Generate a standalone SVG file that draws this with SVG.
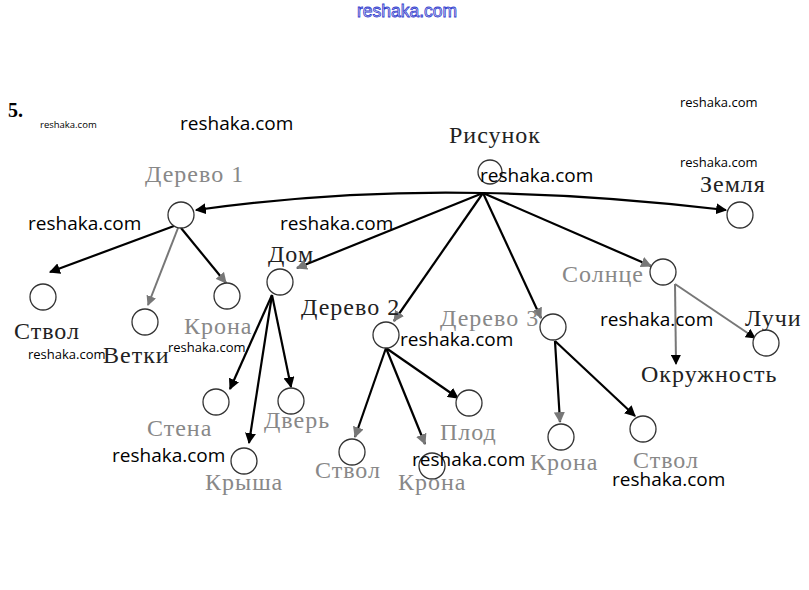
<svg xmlns="http://www.w3.org/2000/svg" width="809" height="590" viewBox="0 0 809 590">
<style>
.n{fill:#fff;stroke:#333;stroke-width:1.3}
.lb{font-family:"Liberation Serif",serif;font-size:24px;letter-spacing:1px;fill:#222}
.lg{font-family:"Liberation Serif",serif;font-size:24px;letter-spacing:1px;fill:#888}
.wm{font-family:"Open Sans",sans-serif;fill:#000}
.c{fill:none;stroke:#000;stroke-width:2.2}
.g{fill:none;stroke:#777;stroke-width:2}
</style>
<defs>
<marker id="ab" viewBox="0 0 10 10" refX="9" refY="5" markerWidth="5" markerHeight="5" orient="auto" markerUnits="strokeWidth"><path d="M0,0 L10,5 L0,10 z" fill="#000"/></marker>
<marker id="ag" viewBox="0 0 10 10" refX="9" refY="5" markerWidth="5" markerHeight="5" orient="auto" markerUnits="strokeWidth"><path d="M0,0 L10,5 L0,10 z" fill="#777"/></marker>
</defs>
<rect width="809" height="590" fill="#fff"/>
<text x="357" y="17" font-family="'Liberation Sans',sans-serif" font-size="17.5" fill="#dde" stroke="#3340d0" stroke-width="0.8">reshaka.com</text>
<text x="8" y="117" font-family="'Liberation Serif',serif" font-size="20" font-weight="bold" fill="#000">5.</text>
<g id="connectors">
<path class="c" d="M483,193 Q340,190 196,210" marker-end="url(#ab)"/>
<path class="c" d="M483,193 Q600,195 726,210" marker-end="url(#ab)"/>
<path class="c" d="M483,193 L297,268" marker-end="url(#ag)"/>
<path class="c" d="M483,193 L394,321" marker-end="url(#ag)"/>
<path class="c" d="M483,193 L541,318" marker-end="url(#ag)"/>
<path class="c" d="M483,193 L651,266" marker-end="url(#ag)"/>
<path class="c" d="M174,226 L50,272" marker-end="url(#ab)"/>
<path class="g" d="M178,228 L148,305" marker-end="url(#ag)"/>
<path class="c" d="M181,228 L226,283" marker-end="url(#ag)"/>
<path class="c" d="M272,295 L230,389" marker-end="url(#ab)"/>
<path class="c" d="M272,295 L249,443" marker-end="url(#ab)"/>
<path class="c" d="M272,295 L291,387" marker-end="url(#ab)"/>
<path class="c" d="M386,348 L355,437" marker-end="url(#ag)"/>
<path class="c" d="M386,348 L425,444" marker-end="url(#ag)"/>
<path class="c" d="M386,348 L458,398" marker-end="url(#ab)"/>
<path class="c" d="M555,341 L560,422" marker-end="url(#ag)"/>
<path class="c" d="M555,341 L635,416" marker-end="url(#ab)"/>
<path class="g" d="M675,284 L676,364" marker-end="url(#ab)"/>
<path class="g" d="M675,284 L755,338" marker-end="url(#ab)"/>
</g>
<g id="n-risunok"><circle class="n" cx="490" cy="172" r="12"/><text class="lb" x="449" y="143">Рисунок</text></g>
<g id="n-derevo1"><circle class="n" cx="181" cy="215" r="13"/><text class="lg" x="145" y="182">Дерево 1</text></g>
<g id="n-zemlya"><circle class="n" cx="740" cy="215" r="13"/><text class="lb" x="700" y="192">Земля</text></g>
<g id="n-dom"><circle class="n" cx="280" cy="282" r="13"/><text class="lb" x="268" y="262">Дом</text></g>
<g id="n-derevo2"><circle class="n" cx="386" cy="335" r="13"/><text class="lb" x="301" y="315">Дерево 2</text></g>
<g id="n-derevo3"><circle class="n" cx="553" cy="327" r="13"/><text class="lg" x="440" y="326">Дерево 3</text></g>
<g id="n-solnce"><circle class="n" cx="663" cy="272" r="13"/><text class="lg" x="562" y="282">Солнце</text></g>
<g id="n-stvol1"><circle class="n" cx="43" cy="297" r="13"/><text class="lb" x="14" y="339">Ствол</text></g>
<g id="n-vetki"><circle class="n" cx="145" cy="322" r="13"/><text class="lb" x="103" y="363">Ветки</text></g>
<g id="n-krona1"><circle class="n" cx="227" cy="296" r="13"/><text class="lg" x="184" y="334">Крона</text></g>
<g id="n-stena"><circle class="n" cx="216" cy="402" r="13"/><text class="lg" x="147" y="436">Стена</text></g>
<g id="n-krysha"><circle class="n" cx="244" cy="461" r="13"/><text class="lg" x="205" y="490">Крыша</text></g>
<g id="n-dver"><circle class="n" cx="291" cy="401" r="13"/><text class="lg" x="264" y="428">Дверь</text></g>
<g id="n-stvol2"><circle class="n" cx="352" cy="452" r="13"/><text class="lg" x="315" y="478">Ствол</text></g>
<g id="n-krona2"><circle class="n" cx="432" cy="466" r="13"/><text class="lg" x="398" y="490">Крона</text></g>
<g id="n-plod"><circle class="n" cx="469" cy="403" r="13"/><text class="lg" x="440" y="440">Плод</text></g>
<g id="n-krona3"><circle class="n" cx="561" cy="437" r="13"/><text class="lg" x="530" y="470">Крона</text></g>
<g id="n-stvol3"><circle class="n" cx="643" cy="429" r="13"/><text class="lg" x="633" y="468">Ствол</text></g>
<g id="n-luchi"><circle class="n" cx="766" cy="343" r="13"/><text class="lb" x="745" y="326">Лучи</text></g>
<g id="n-okr"><text class="lb" x="641" y="382">Окружность</text></g>
<g id="watermarks">
<text class="wm" x="40" y="128" font-size="9.5">reshaka.com</text>
<text class="wm" x="180" y="130" font-size="19">reshaka.com</text>
<text class="wm" x="680" y="107" font-size="13">reshaka.com</text>
<text class="wm" x="680" y="167" font-size="13">reshaka.com</text>
<text class="wm" x="480" y="182" font-size="19">reshaka.com</text>
<text class="wm" x="28" y="230" font-size="19">reshaka.com</text>
<text class="wm" x="280" y="230" font-size="19">reshaka.com</text>
<text class="wm" x="28" y="359" font-size="13">reshaka.com</text>
<text class="wm" x="168" y="352" font-size="13">reshaka.com</text>
<text class="wm" x="400" y="346" font-size="19">reshaka.com</text>
<text class="wm" x="600" y="326" font-size="19">reshaka.com</text>
<text class="wm" x="112" y="462" font-size="19">reshaka.com</text>
<text class="wm" x="412" y="466" font-size="19">reshaka.com</text>
<text class="wm" x="612" y="486" font-size="19">reshaka.com</text>
</g>
</svg>
